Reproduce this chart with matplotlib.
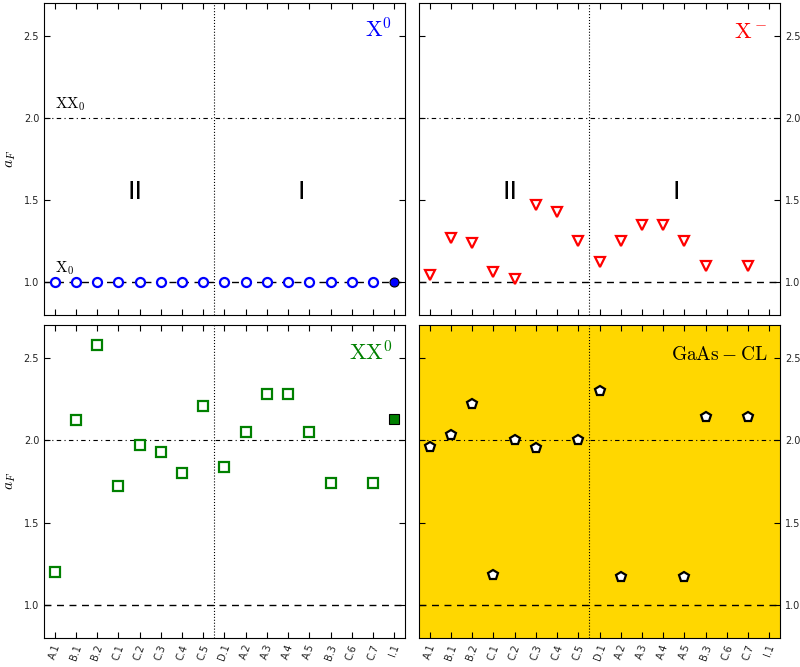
import numpy as np
import matplotlib
matplotlib.use('Agg')
import matplotlib.pyplot as plt

plt.rcParams['mathtext.fontset'] = 'cm'

# sites on the x axis
sites = ['A.1', 'B.1', 'B.2', 'C.1', 'C.2', 'C.3', 'C.4', 'C.5', 'D.1',
         'A.2', 'A.3', 'A.4', 'A.5', 'B.3', 'C.6', 'C.7', 'I.1']

nan = np.nan
# a_F values (nan = no point)
aF_X0 = [1.0, 1.0, 1.0, 1.0, 1.0, 1.0, 1.0, 1.0, 1.0,
         1.0, 1.0, 1.0, 1.0, 1.0, 1.0, 1.0, 1.0]
aF_Xm = [1.04, 1.27, 1.24, 1.06, 1.02, 1.47, 1.43, 1.25, 1.12,
         1.25, 1.35, 1.35, 1.25, 1.10, nan, 1.10, nan]
aF_XX0 = [1.20, 2.12, 2.58, 1.72, 1.97, 1.93, 1.80, 2.21, 1.84,
          2.05, 2.28, 2.28, 2.05, 1.74, nan, 1.74, 2.13]
aF_CL = [1.96, 2.03, 2.22, 1.18, 2.00, 1.95, nan, 2.00, 2.30,
         1.17, nan, nan, 1.17, 2.14, nan, 2.14, nan]

x = np.arange(len(sites))
last = len(sites) - 1

fig = plt.figure(figsize=(8, 6.67), dpi=100)
ax_tl = fig.add_axes([0.055, 0.528, 0.451, 0.467])
ax_tr = fig.add_axes([0.524, 0.528, 0.451, 0.467])
ax_bl = fig.add_axes([0.055, 0.0435, 0.451, 0.4695])
ax_br = fig.add_axes([0.524, 0.0435, 0.451, 0.4695], facecolor='#FFD700')


def decorate(ax, right=False, bottom=False):
    ax.set_xlim(-0.5, 16.5)
    ax.set_ylim(0.8, 2.7)
    ax.axhline(1.0, color='k', ls='--', lw=1, dashes=(5, 4), zorder=1)
    ax.axhline(2.0, color='k', ls='-.', lw=0.8, dashes=(4, 3, 1, 3), zorder=1)
    ax.axvline(7.5, color='k', ls=':', lw=0.8, zorder=1)
    ax.set_xticks(x)
    ax.set_yticks([1.0, 1.5, 2.0, 2.5])
    ax.tick_params(direction='in', top=True, right=True, left=True,
                   labelsize=7, length=4, colors='k', labelcolor='#222222')
    if right:
        ax.yaxis.tick_right()
        ax.tick_params(axis='y', left=True, right=True, direction='in')
    else:
        ax.set_ylabel(r'$a_F$', fontsize=11)
    if bottom:
        ax.set_xticklabels(sites, rotation=70, fontsize=7)
    else:
        ax.set_xticklabels([])


for ax, r, b in [(ax_tl, False, False), (ax_tr, True, False),
                 (ax_bl, False, True), (ax_br, True, True)]:
    decorate(ax, r, b)

# X0
ax_tl.plot(x[:last], aF_X0[:last], 'o', ms=6.5, mfc='white', mec='blue',
           mew=1.6, zorder=3)
ax_tl.plot(x[last], aF_X0[last], 'o', ms=6.5, mfc='blue', mec='k',
           mew=0.8, zorder=3)
ax_tl.text(15.9, 2.49, r'$\mathrm{X^0}$', color='blue', fontsize=16,
           ha='right', va='baseline')
ax_tl.text(0.0, 2.03, r'$\mathrm{XX_0}$', fontsize=11, ha='left', va='bottom')
ax_tl.text(0.0, 1.03, r'$\mathrm{X_0}$', fontsize=11, ha='left', va='bottom')

# X-
ax_tr.plot(x, aF_Xm, 'v', ms=7, mfc='white', mec='red', mew=1.6, zorder=3)
ax_tr.text(15.9, 2.49, r'$\mathrm{X^-}$', color='red', fontsize=16,
           ha='right', va='baseline')

# XX0
ax_bl.plot(x[:last], aF_XX0[:last], 's', ms=7, mfc='white', mec='green',
           mew=1.6, zorder=3)
ax_bl.plot(x[last], aF_XX0[last], 's', ms=7, mfc='green', mec='k',
           mew=0.8, zorder=3)
ax_bl.text(15.9, 2.485, r'$\mathrm{XX^0}$', color='green', fontsize=16,
           ha='right', va='baseline')

# GaAs CL
ax_br.plot(x, aF_CL, 'p', ms=7, mfc='white', mec='k', mew=1.6, zorder=3)
ax_br.text(15.9, 2.485, r'$\mathrm{GaAs-CL}$', fontsize=14,
           ha='right', va='baseline')

# region labels
for ax in (ax_tl, ax_tr):
    ax.text(3.8, 1.55, 'II', fontsize=18, ha='center', va='center')
    ax.text(11.6, 1.55, 'I', fontsize=18, ha='center', va='center')

fig.savefig('out.png', dpi=100)
